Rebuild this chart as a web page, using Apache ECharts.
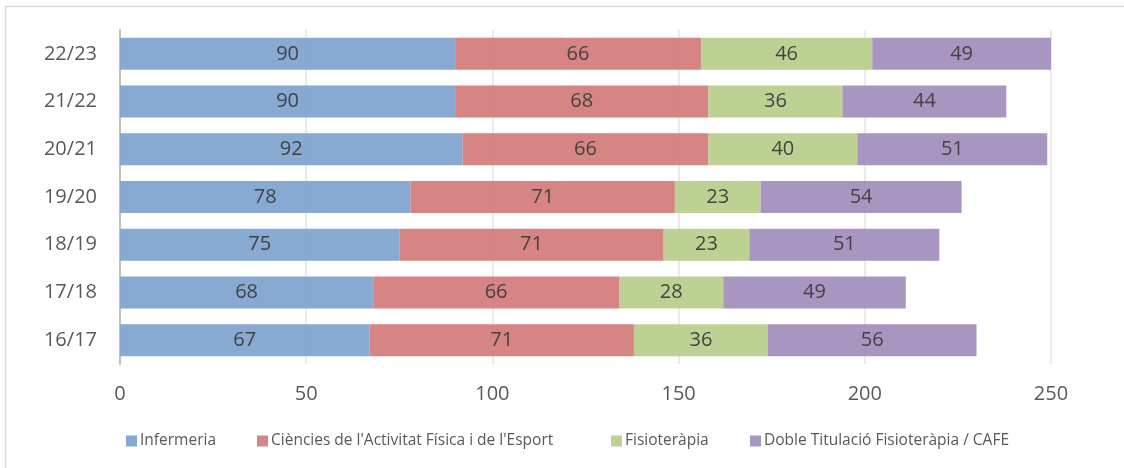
<!DOCTYPE html>
<html>
<head>
<meta charset="utf-8">
<script src="https://cdn.jsdelivr.net/npm/echarts@6/dist/echarts.min.js"></script>
<style>html,body{margin:0;padding:0;background:#fff}#c{width:1124px;height:468px}</style>
</head>
<body>
<div id="c"></div>
<script>
const categories = ['16/17','17/18','18/19','19/20','20/21','21/22','22/23'];
const seriesNames = ['Infermeria', "Ciències de l'Activitat Física i de l'Esport", 'Fisioteràpia', 'Doble Titulació Fisioteràpia / CAFE'];
const infermeria = [67, 68, 75, 78, 92, 90, 90];
const ciencies = [71, 66, 71, 71, 66, 68, 66];
const fisioterapia = [36, 28, 23, 23, 40, 36, 46];
const doble = [56, 49, 51, 54, 51, 44, 49];
const xTicks = [0, 50, 100, 150, 200, 250];

const colors = ['#84a6cf', '#d58180', '#bbcf8e', '#a592be'];
const values = [infermeria, ciencies, fisioterapia, doble];
const FONT = 'Open Sans';

const chart = echarts.init(document.getElementById('c'), null, {renderer: 'canvas'});
const legendLefts = [121, 252, 606, 745];
chart.setOption({
  animation: false,
  textStyle: {fontFamily: FONT},
  graphic: [{
    type: 'rect', shape: {x: 5.5, y: 6.5, width: 1200, height: 600},
    style: {fill: 'none', stroke: '#d9d9d9', lineWidth: 1.5}, silent: true, z: -10
  }],
  grid: {left: 120, right: 73, top: 30, height: 334, containLabel: false},
  legend: seriesNames.map((n, i) => ({
    data: [n], left: legendLefts[i], top: 428, itemWidth: 11, itemHeight: 11, itemGap: 4,
    icon: 'rect', selectedMode: false,
    textStyle: {fontFamily: FONT, fontSize: 15.5, color: '#595959', padding: [0, 0, 0, -2]}
  })),
  xAxis: {
    type: 'value', min: xTicks[0], max: xTicks[xTicks.length - 1], interval: 50,
    axisLine: {show: false}, axisTick: {show: false},
    splitLine: {show: true, lineStyle: {color: '#e3e3e3', width: 1.5}},
    axisLabel: {fontSize: 20, color: '#595959', margin: 20, fontFamily: FONT}
  },
  yAxis: {
    type: 'category', data: categories,
    axisLine: {show: true, lineStyle: {color: '#bfbfbf', width: 2}},
    axisTick: {show: false},
    axisLabel: {fontSize: 20, color: '#595959', margin: 23, fontFamily: FONT}
  },
  series: seriesNames.map((n, i) => ({
    name: n, type: 'bar', stack: 'total', data: values[i],
    barWidth: '67%',
    itemStyle: {color: colors[i], opacity: 0.97},
    label: {show: true, position: 'inside', fontSize: 20, color: '#404040', fontFamily: FONT},
    emphasis: {disabled: true}
  }))
});
</script>
</body>
</html>
